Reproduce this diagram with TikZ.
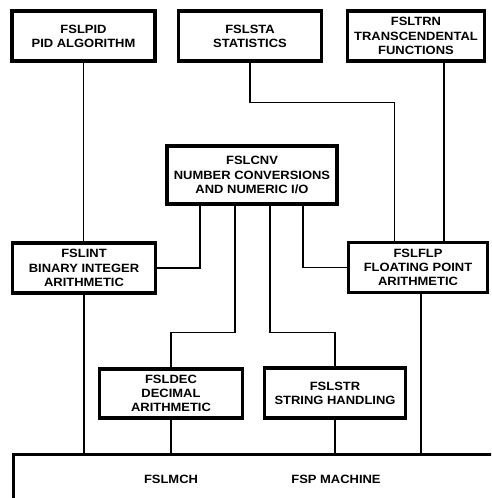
\documentclass[tikz,border=0pt]{standalone}
\usepackage{fontspec}
\newfontfamily\labelfont{Liberation Sans}[FakeStretch=1.08]
\usetikzlibrary{positioning}

\begin{document}
\begin{tikzpicture}[
    x=1pt, y=-1pt,
    module/.style={rectangle, draw, line width=3.2pt, align=center, inner sep=0pt,
        font=\labelfont\bfseries\fontsize{12}{14.2}\selectfont},
    caption/.style={draw=none, font=\labelfont\bfseries\fontsize{12}{14.2}\selectfont},
    link/.style={line width=1.4pt}
]
\clip (0,0) rectangle (491,498);

% top row
\node[module, minimum width=143pt, minimum height=50pt] (pid) at (83.5,36) {FSLPID\\PID ALGORITHM};
\node[module, minimum width=143pt, minimum height=50pt] (sta) at (250,36) {FSLSTA\\STATISTICS};
\node[module, minimum width=137.5pt, minimum height=50pt] (trn) at (416,36) {FSLTRN\\TRANSCENDENTAL\\FUNCTIONS};

% middle
\node[module, minimum width=170pt, minimum height=58pt] (cnv) at (252,175) {FSLCNV\\NUMBER CONVERSIONS\\AND NUMERIC I/O};
\node[module, minimum width=142.5pt, minimum height=50pt] (int) at (84,268) {FSLINT\\BINARY INTEGER\\ARITHMETIC};
\node[module, minimum width=139pt, minimum height=50pt] (flp) at (418,267.5) {FSLFLP\\FLOATING POINT\\ARITHMETIC};
\node[module, minimum width=142.5pt, minimum height=49pt] (dec) at (171,393.5) {FSLDEC\\DECIMAL\\ARITHMETIC};
\node[module, minimum width=141pt, minimum height=50pt] (str) at (335,393) {FSLSTR\\STRING HANDLING};

% machine
\node[module, minimum width=500pt, minimum height=80pt, anchor=north west] (mch) at (12,453) {};
\node[caption] (mchname) at (171,479) {FSLMCH};
\node[caption] (fspname) at (336,479) {FSP MACHINE};

% connections
\draw[link] (pid.south) -- (pid.south |- int.north);
\draw[link] (int.south) -- (int.south |- mch.north);
\draw[link] (sta.south) -- ++(0,40) -| ([xshift=-23.5pt]flp.north);
\draw[link] ([xshift=28pt]trn.south) -- ([xshift=28pt]trn.south |- flp.north);
\draw[link] ([xshift=3pt]flp.south) -- ([xshift=3pt]flp.south |- mch.north);
\draw[link] ([xshift=-52pt]cnv.south) |- (int.east);
\draw[link] ([xshift=-17pt]cnv.south) -- ++(0,127) -| (dec.north);
\draw[link] ([xshift=18pt]cnv.south) -- ++(0,127) -| (str.north);
\draw[link] ([xshift=51pt]cnv.south) |- (flp.west);
\draw[link] (dec.south) -- (dec.south |- mch.north);
\draw[link] (str.south) -- (str.south |- mch.north);
\end{tikzpicture}
\end{document}
